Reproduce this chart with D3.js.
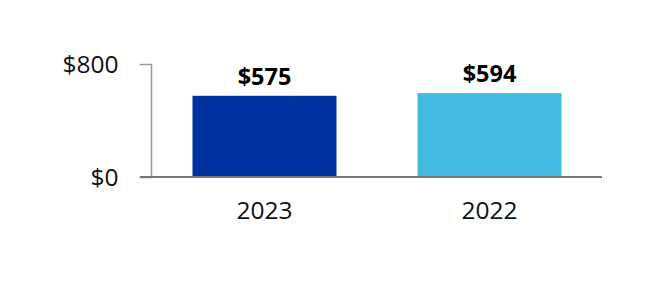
<!DOCTYPE html>
<html><head><meta charset="utf-8">
<script src="https://cdn.jsdelivr.net/npm/d3@7"></script>
<style>html,body{margin:0;padding:0;background:#fff;}svg{display:block;}</style>
</head><body>
<svg id="c" width="666" height="284"></svg>
<script>
const categories = ["2023", "2022"];
const values = [575, 594];
const valueLabels = ["$575", "$594"];
const yTicks = [0, 800];
const yTickLabels = ["$0", "$800"];
const colors = ["#0033a0", "#45bbe3"];

const svg = d3.select("#c");
const font = "'Open Sans', sans-serif";
const x = d3.scaleBand().domain(categories).range([152, 602]).paddingInner(0.36).paddingOuter(0.18);
const y = d3.scaleLinear().domain([0, 800]).range([177, 64]);

// bars
svg.selectAll("rect.bar").data(values).enter().append("rect")
  .attr("x", (d,i) => x(categories[i]))
  .attr("width", x.bandwidth())
  .attr("y", d => y(d))
  .attr("height", d => y(0) - y(d))
  .attr("fill", (d,i) => colors[i]);

// value labels
svg.selectAll("text.val").data(values).enter().append("text")
  .attr("x", (d,i) => x(categories[i]) + x.bandwidth()/2)
  .attr("y", d => y(d) - 11)
  .attr("text-anchor", "middle")
  .attr("font-family", font).attr("font-weight", "bold").attr("font-size", 23.5)
  .attr("fill", "#000")
  .text((d,i) => valueLabels[i]);

// y axis
const yAxis = d3.axisLeft(y).tickValues(yTicks).tickFormat((d,i) => yTickLabels[i]).tickSize(12).tickPadding(21);
const gy = svg.append("g").attr("transform", "translate(151.5,0)").call(yAxis);
gy.select(".domain").attr("stroke", "#999").attr("stroke-width", 1.5).attr("d", "M0," + y(800) + "V" + y(0));
gy.selectAll(".tick line").attr("stroke", "#999").attr("stroke-width", 1.5);
gy.selectAll(".tick text").attr("font-family", font).attr("font-size", 24.5).attr("fill", "#111").attr("dy", "0.36em");

// baseline
svg.append("line").attr("x1", 140).attr("x2", 602).attr("y1", y(0)).attr("y2", y(0))
  .attr("stroke", "#777").attr("stroke-width", 2);

// x axis labels
const xAxis = d3.axisBottom(x).tickSize(0).tickPadding(25);
const gx = svg.append("g").attr("transform", "translate(0," + y(0) + ")").call(xAxis);
gx.select(".domain").remove();
gx.selectAll(".tick text").attr("font-family", font).attr("font-size", 24.5).attr("fill", "#111");
</script>
</body></html>
